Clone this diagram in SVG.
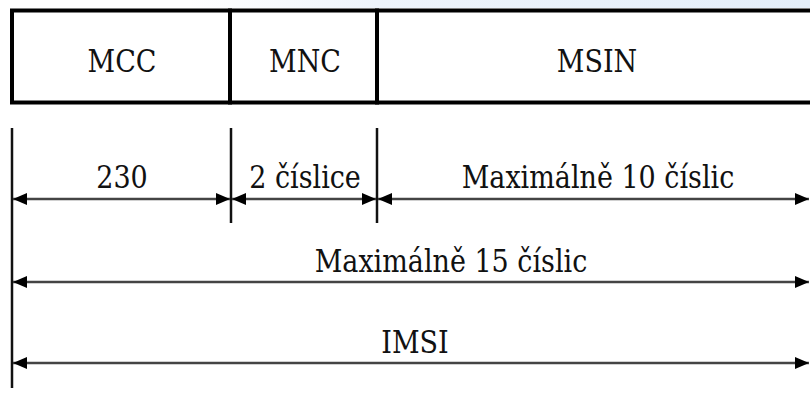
<svg xmlns="http://www.w3.org/2000/svg" width="810" height="398" viewBox="0 0 810 398">
<defs>
<linearGradient id="band" x1="0" y1="0" x2="1" y2="0">
<stop offset="0" stop-color="#ffffff"/>
<stop offset="0.3" stop-color="#eef4fb"/>
<stop offset="1" stop-color="#e4eef9"/>
</linearGradient>
<marker id="ah" viewBox="0 0 14 12" refX="14" refY="6" markerWidth="14" markerHeight="12" markerUnits="userSpaceOnUse" orient="auto-start-reverse">
<path d="M0,0 L14,6 L0,12 Z" fill="#000"/>
</marker>
<style>
.t{font-family:'DejaVu Serif','Liberation Serif',serif;font-size:27px;fill:#111;text-anchor:middle}
.box{fill:#fff;stroke:#000;stroke-width:4}
.tick{stroke:#111;stroke-width:2.5;fill:none}
.dim{stroke:#444;stroke-width:2.5;fill:none;marker-start:url(#ah);marker-end:url(#ah)}
</style>
</defs>
<rect width="810" height="398" fill="#fff"/>
<rect x="190" y="0" width="620" height="8" fill="url(#band)"/>
<g id="MCC">
<rect class="box" x="12" y="10.5" width="218" height="92"/>
<text class="t" transform="translate(122 72) scale(1 1.15)">MCC</text>
</g>
<g id="MNC">
<rect class="box" x="230" y="10.5" width="147" height="92"/>
<text class="t" transform="translate(305 72) scale(1 1.15)">MNC</text>
</g>
<g id="MSIN">
<rect class="box" x="377" y="10.5" width="440" height="92"/>
<text class="t" transform="translate(597 72) scale(1 1.15)">MSIN</text>
</g>
<g id="connectors">
<line class="tick" x1="12" y1="128" x2="12" y2="388"/>
<line class="tick" x1="231" y1="128" x2="231" y2="223"/>
<line class="tick" x1="377" y1="128" x2="377" y2="223"/>
<line class="dim" x1="13" y1="199" x2="230" y2="199"/>
<line class="dim" x1="232" y1="199" x2="376" y2="199"/>
<line class="dim" x1="378" y1="199" x2="809" y2="199"/>
<line class="dim" x1="13" y1="282" x2="809" y2="282"/>
<line class="dim" x1="13" y1="363" x2="809" y2="363"/>
</g>
<g id="labels">
<text class="t" transform="translate(122 188) scale(1 1.15)">230</text>
<text class="t" transform="translate(305 188) scale(1 1.15)">2 číslice</text>
<text class="t" transform="translate(598 188) scale(1 1.15)">Maximálně 10 číslic</text>
<text class="t" transform="translate(451 272) scale(1 1.15)">Maximálně 15 číslic</text>
<text class="t" transform="translate(415 353) scale(1 1.15)">IMSI</text>
</g>
</svg>
